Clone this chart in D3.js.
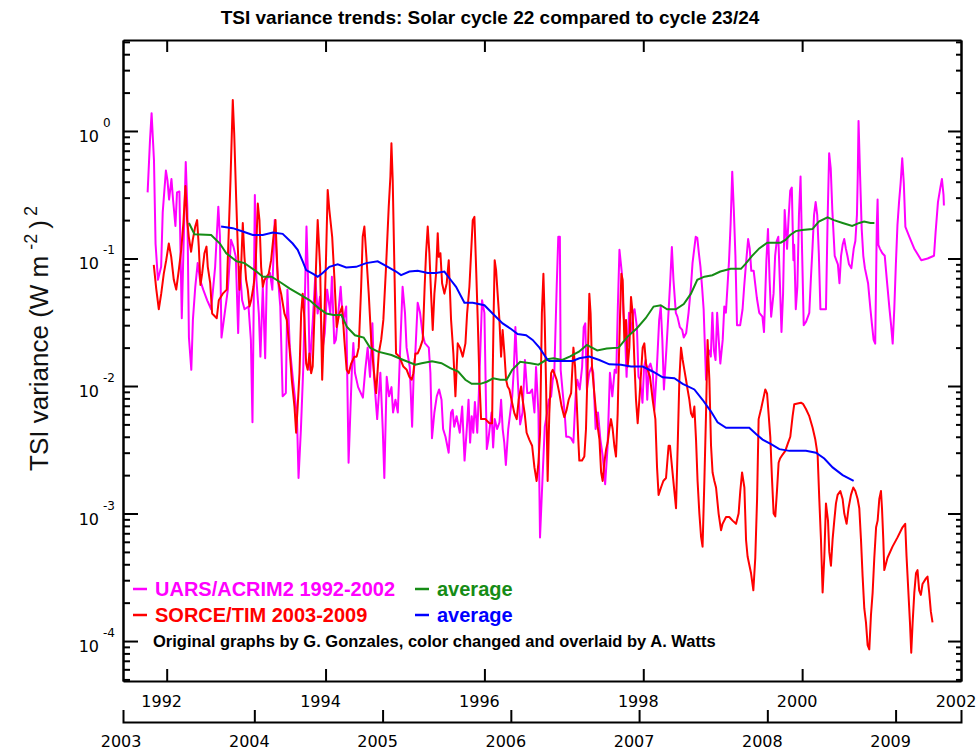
<!DOCTYPE html>
<html>
<head>
<meta charset="utf-8">
<script src="https://cdn.jsdelivr.net/npm/d3@7"></script>
<style>
  body { margin: 0; background: #fff; }
  svg { display: block; }
</style>
</head>
<body>
<div id="chart"></div>
<script>
// UARS/ACRIM2 1992-2002 variance, [decimal year, W^2 m^-4]
const uarsSeries = [
[1991.76,0.33],[1991.79,0.85],[1991.81,1.38],[1991.84,0.59],[1991.86,0.13],[1991.89,0.068],[1991.93,0.086],[1991.95,0.23],[1991.99,0.49],[1992.01,0.41],
[1992.03,0.29],[1992.06,0.42],[1992.08,0.29],[1992.11,0.18],[1992.13,0.33],[1992.16,0.335],[1992.19,0.034],[1992.21,0.11],[1992.24,0.57],[1992.26,0.25],
[1992.28,0.024],[1992.31,0.0134],[1992.33,0.033],[1992.36,0.06],[1992.39,0.092],[1992.42,0.068],[1992.46,0.057],[1992.51,0.047],[1992.56,0.040],[1992.61,0.086],
[1992.65,0.255],[1992.67,0.15],[1992.69,0.024],[1992.73,0.037],[1992.77,0.057],[1992.81,0.14],[1992.84,0.124],[1992.87,0.103],[1992.90,0.026],[1992.92,0.086],
[1992.95,0.047],[1992.98,0.040],[1993.03,0.042],[1993.06,0.023],[1993.08,0.0052],[1993.11,0.315],[1993.13,0.068],[1993.16,0.037],[1993.18,0.017],[1993.21,0.06],
[1993.24,0.0165],[1993.26,0.068],[1993.30,0.077],[1993.33,0.057],[1993.36,0.20],[1993.39,0.086],[1993.43,0.042],[1993.46,0.0083],[1993.50,0.0088],[1993.52,0.057],
[1993.55,0.020],[1993.59,0.0112],[1993.64,0.0058],[1993.66,0.0019],[1993.69,0.0046],[1993.72,0.0142],[1993.76,0.178],[1993.78,0.068],[1993.80,0.0134],[1993.84,0.033],
[1993.87,0.072],[1993.90,0.037],[1993.93,0.05],[1993.96,0.019],[1993.99,0.026],[1994.02,0.057],[1994.06,0.037],[1994.08,0.072],[1994.11,0.0216],[1994.13,0.023],
[1994.16,0.037],[1994.19,0.06],[1994.22,0.031],[1994.26,0.042],[1994.29,0.0025],[1994.33,0.0127],[1994.35,0.0217],[1994.37,0.0127],[1994.41,0.0098],[1994.47,0.0081],
[1994.50,0.0134],[1994.53,0.020],[1994.56,0.0118],[1994.59,0.031],[1994.61,0.0118],[1994.65,0.0055],[1994.69,0.0127],[1994.72,0.0046],[1994.74,0.0019],[1994.77,0.0118],
[1994.80,0.0083],[1994.83,0.0098],[1994.85,0.0062],[1994.88,0.0078],[1994.91,0.0062],[1994.94,0.020],[1994.97,0.06],[1995.00,0.0375],[1995.02,0.020],[1995.06,0.0141],
[1995.09,0.0048],[1995.11,0.0127],[1995.13,0.018],[1995.16,0.045],[1995.19,0.0375],[1995.22,0.026],[1995.25,0.0217],[1995.30,0.020],[1995.32,0.0127],[1995.34,0.0039],
[1995.37,0.0062],[1995.40,0.0083],[1995.43,0.0094],[1995.46,0.0078],[1995.48,0.0046],[1995.51,0.0040],[1995.55,0.0030],[1995.58,0.0062],[1995.60,0.0065],[1995.62,0.0048],
[1995.65,0.0058],[1995.69,0.0043],[1995.72,0.0069],[1995.75,0.0026],[1995.78,0.0048],[1995.80,0.0078],[1995.82,0.0036],[1995.84,0.0058],[1995.86,0.0043],[1995.88,0.0075],
[1995.91,0.0043],[1995.93,0.0088],[1995.97,0.047],[1996.00,0.0375],[1996.03,0.0032],[1996.05,0.0038],[1996.09,0.0062],[1996.11,0.0033],[1996.13,0.0055],[1996.16,0.0046],
[1996.19,0.0052],[1996.21,0.0078],[1996.23,0.0046],[1996.25,0.0036],[1996.27,0.0024],[1996.30,0.0046],[1996.35,0.0083],[1996.37,0.0134],[1996.39,0.029],[1996.42,0.0112],
[1996.45,0.0050],[1996.48,0.0062],[1996.51,0.016],[1996.54,0.0088],[1996.57,0.0088],[1996.60,0.0094],[1996.63,0.0062],[1996.65,0.0141],[1996.68,0.0062],[1996.70,0.00065],
[1996.73,0.0018],[1996.76,0.0048],[1996.79,0.0062],[1996.81,0.0078],[1996.84,0.0083],[1996.86,0.0112],[1996.88,0.0127],[1996.91,0.06],[1996.93,0.148],[1996.95,0.148],
[1996.96,0.0134],[1996.99,0.0083],[1997.01,0.0062],[1997.03,0.0040],[1997.06,0.0040],[1997.09,0.0039],[1997.12,0.0036],[1997.15,0.0088],[1997.17,0.0112],[1997.20,0.0094],
[1997.23,0.0141],[1997.25,0.029],[1997.27,0.031],[1997.29,0.0094],[1997.32,0.0127],[1997.35,0.0141],[1997.37,0.0127],[1997.40,0.0046],[1997.43,0.0062],[1997.46,0.0038],
[1997.49,0.0028],[1997.52,0.0017],[1997.55,0.0033],[1997.58,0.0127],[1997.61,0.0083],[1997.64,0.0134],[1997.66,0.0127],[1997.68,0.042],[1997.70,0.117],[1997.73,0.077],
[1997.75,0.0375],[1997.77,0.026],[1997.79,0.0118],[1997.82,0.0375],[1997.85,0.026],[1997.87,0.0375],[1997.89,0.040],[1997.92,0.029],[1997.94,0.0118],[1997.96,0.0112],
[1997.99,0.0074],[1998.01,0.0141],[1998.03,0.016],[1998.05,0.0078],[1998.07,0.0141],[1998.09,0.015],[1998.12,0.0127],[1998.14,0.0065],[1998.17,0.0134],[1998.20,0.033],
[1998.22,0.042],[1998.24,0.023],[1998.26,0.0094],[1998.29,0.019],[1998.32,0.040],[1998.34,0.068],[1998.36,0.123],[1998.38,0.068],[1998.41,0.0375],[1998.43,0.035],
[1998.46,0.029],[1998.49,0.0275],[1998.51,0.024],[1998.54,0.026],[1998.57,0.0375],[1998.60,0.06],[1998.62,0.092],[1998.66,0.148],[1998.68,0.145],[1998.70,0.11],
[1998.72,0.086],[1998.74,0.06],[1998.76,0.040],[1998.79,0.0112],[1998.81,0.017],[1998.83,0.019],[1998.85,0.017],[1998.87,0.0375],[1998.89,0.019],[1998.91,0.016],
[1998.93,0.0375],[1998.95,0.023],[1998.97,0.015],[1999.00,0.023],[1999.02,0.042],[1999.04,0.0375],[1999.06,0.06],[1999.08,0.097],[1999.10,0.19],[1999.12,0.48],
[1999.14,0.24],[1999.16,0.105],[1999.18,0.030],[1999.22,0.030],[1999.25,0.040],[1999.27,0.06],[1999.29,0.086],[1999.32,0.142],[1999.34,0.12],[1999.36,0.08],
[1999.39,0.08],[1999.43,0.049],[1999.46,0.0375],[1999.50,0.035],[1999.52,0.0265],[1999.55,0.097],[1999.57,0.17],[1999.59,0.069],[1999.61,0.035],[1999.64,0.053],
[1999.66,0.105],[1999.68,0.137],[1999.70,0.148],[1999.72,0.064],[1999.74,0.0265],[1999.76,0.053],[1999.78,0.24],[1999.81,0.119],[1999.83,0.21],[1999.85,0.34],
[1999.87,0.36],[1999.89,0.097],[1999.90,0.128],[1999.92,0.040],[1999.94,0.06],[1999.96,0.22],[1999.98,0.44],[2000.00,0.11],[2000.02,0.030],[2000.05,0.032],
[2000.09,0.0375],[2000.11,0.069],[2000.13,0.12],[2000.15,0.22],[2000.17,0.277],[2000.19,0.22],[2000.21,0.11],[2000.23,0.040],[2000.28,0.040],[2000.30,0.040],
[2000.32,0.193],[2000.34,0.67],[2000.36,0.51],[2000.38,0.24],[2000.41,0.105],[2000.45,0.09],[2000.47,0.064],[2000.49,0.105],[2000.51,0.128],[2000.53,0.142],
[2000.55,0.12],[2000.57,0.105],[2000.59,0.09],[2000.62,0.084],[2000.65,0.12],[2000.67,0.137],[2000.69,0.22],[2000.70,0.44],[2000.71,1.2],[2000.73,0.44],
[2000.75,0.17],[2000.77,0.105],[2000.79,0.084],[2000.83,0.064],[2000.86,0.040],[2000.88,0.030],[2000.90,0.023],[2000.92,0.0215],[2000.94,0.183],[2000.95,0.29],
[2000.96,0.128],[2000.98,0.119],[2001.01,0.11],[2001.04,0.105],[2001.07,0.064],[2001.10,0.040],[2001.12,0.030],[2001.14,0.0215],[2001.16,0.040],[2001.18,0.09],
[2001.20,0.183],[2001.22,0.277],[2001.24,0.39],[2001.26,0.61],[2001.28,0.39],[2001.30,0.177],[2001.35,0.148],[2001.41,0.12],[2001.50,0.097],[2001.58,0.10],
[2001.66,0.105],[2001.68,0.16],[2001.71,0.277],[2001.74,0.36],[2001.76,0.42],[2001.78,0.315],[2001.785,0.26]
];

// SORCE/TIM 2003-2009 variance
const sorceSeries = [
[2003.216,0.089],[2003.235,0.058],[2003.255,0.040],[2003.274,0.053],[2003.294,0.076],[2003.313,0.097],[2003.333,0.131],[2003.352,0.103],[2003.372,0.068],[2003.391,0.057],
[2003.411,0.081],[2003.430,0.117],[2003.447,0.19],[2003.463,0.37],[2003.476,0.20],[2003.489,0.148],[2003.507,0.113],[2003.520,0.14],[2003.539,0.178],[2003.554,0.20],
[2003.567,0.124],[2003.580,0.062],[2003.593,0.076],[2003.611,0.11],[2003.627,0.124],[2003.637,0.086],[2003.656,0.064],[2003.671,0.037],[2003.707,0.034],[2003.723,0.047],
[2003.754,0.053],[2003.785,0.057],[2003.801,0.167],[2003.814,0.41],[2003.832,1.75],[2003.843,0.96],[2003.858,0.305],[2003.871,0.124],[2003.884,0.057],[2003.897,0.086],
[2003.910,0.19],[2003.923,0.103],[2003.936,0.068],[2003.949,0.057],[2003.962,0.042],[2003.975,0.047],[2003.993,0.06],[2004.009,0.081],[2004.027,0.27],[2004.040,0.20],
[2004.053,0.086],[2004.066,0.06],[2004.079,0.068],[2004.112,0.076],[2004.131,0.097],[2004.149,0.148],[2004.165,0.20],[2004.183,0.068],[2004.209,0.053],[2004.235,0.037],
[2004.253,0.033],[2004.274,0.020],[2004.292,0.0112],[2004.313,0.0069],[2004.326,0.0043],[2004.338,0.0069],[2004.352,0.0126],[2004.365,0.037],[2004.377,0.053],[2004.391,0.033],
[2004.404,0.015],[2004.416,0.0134],[2004.430,0.018],[2004.443,0.0126],[2004.455,0.0142],[2004.469,0.037],[2004.482,0.092],[2004.494,0.20],[2004.513,0.086],[2004.529,0.0112],
[2004.547,0.037],[2004.560,0.11],[2004.572,0.345],[2004.585,0.24],[2004.607,0.148],[2004.625,0.068],[2004.642,0.029],[2004.663,0.037],[2004.685,0.042],[2004.702,0.023],
[2004.720,0.0134],[2004.736,0.0126],[2004.755,0.015],[2004.780,0.017],[2004.798,0.017],[2004.814,0.020],[2004.833,0.06],[2004.845,0.148],[2004.858,0.178],[2004.872,0.11],
[2004.892,0.053],[2004.911,0.023],[2004.931,0.0134],[2004.950,0.0088],[2004.970,0.018],[2004.989,0.023],[2005.006,0.033],[2005.027,0.086],[2005.048,0.255],[2005.061,0.44],
[2005.069,0.80],[2005.079,0.41],[2005.092,0.086],[2005.105,0.018],[2005.131,0.017],[2005.162,0.0142],[2005.188,0.0134],[2005.209,0.0118],[2005.227,0.0112],[2005.240,0.0126],
[2005.256,0.018],[2005.274,0.018],[2005.293,0.020],[2005.313,0.023],[2005.328,0.06],[2005.339,0.11],[2005.352,0.178],[2005.365,0.11],[2005.378,0.053],[2005.391,0.0275],
[2005.404,0.053],[2005.417,0.076],[2005.430,0.158],[2005.438,0.103],[2005.451,0.11],[2005.464,0.064],[2005.482,0.053],[2005.500,0.064],[2005.516,0.097],[2005.534,0.033],
[2005.552,0.018],[2005.568,0.0083],[2005.586,0.0216],[2005.604,0.020],[2005.625,0.017],[2005.646,0.0216],[2005.659,0.037],[2005.677,0.06],[2005.690,0.11],[2005.703,0.20],
[2005.716,0.212],[2005.729,0.086],[2005.742,0.033],[2005.755,0.0112],[2005.768,0.0055],[2005.802,0.0055],[2005.833,0.0051],[2005.854,0.0051],[2005.858,0.0112],[2005.866,0.037],
[2005.874,0.097],[2005.885,0.081],[2005.897,0.053],[2005.911,0.033],[2005.924,0.017],[2005.936,0.0275],[2005.950,0.018],[2005.963,0.0112],[2005.975,0.0099],[2005.989,0.0094],
[2006.010,0.0074],[2006.028,0.0061],[2006.046,0.0055],[2006.061,0.0078],[2006.080,0.0099],[2006.092,0.0078],[2006.108,0.0061],[2006.123,0.0043],[2006.144,0.0038],[2006.166,0.0034],
[2006.184,0.0023],[2006.201,0.0018],[2006.215,0.0025],[2006.228,0.0043],[2006.242,0.037],[2006.254,0.076],[2006.264,0.033],[2006.275,0.0099],[2006.287,0.0018],[2006.300,0.0061],
[2006.314,0.0126],[2006.326,0.0134],[2006.339,0.0126],[2006.357,0.0112],[2006.378,0.0088],[2006.396,0.0069],[2006.417,0.0057],[2006.435,0.0065],[2006.451,0.0078],[2006.470,0.0088],
[2006.488,0.020],[2006.501,0.0142],[2006.513,0.0078],[2006.526,0.0038],[2006.534,0.0026],[2006.555,0.0026],[2006.573,0.0028],[2006.586,0.0046],[2006.599,0.0142],[2006.612,0.053],
[2006.622,0.037],[2006.633,0.0142],[2006.651,0.0088],[2006.665,0.0061],[2006.677,0.0048],[2006.691,0.0038],[2006.704,0.0021],[2006.716,0.0018],[2006.729,0.0025],[2006.743,0.0032],
[2006.755,0.0036],[2006.768,0.0046],[2006.781,0.0055],[2006.794,0.0046],[2006.807,0.0034],[2006.820,0.0028],[2006.833,0.0061],[2006.841,0.0142],[2006.852,0.037],[2006.862,0.076],
[2006.872,0.068],[2006.885,0.023],[2006.898,0.033],[2006.911,0.0142],[2006.924,0.020],[2006.937,0.050],[2006.950,0.037],[2006.963,0.016],[2006.976,0.0078],[2006.989,0.0051],
[2007.002,0.0078],[2007.015,0.0126],[2007.028,0.020],[2007.041,0.0216],[2007.054,0.015],[2007.067,0.0134],[2007.085,0.0118],[2007.106,0.0078],[2007.127,0.0055],[2007.140,0.0023],
[2007.152,0.0014],[2007.171,0.0016],[2007.189,0.0018],[2007.210,0.0019],[2007.230,0.0034],[2007.241,0.0034],[2007.257,0.0023],[2007.275,0.0015],[2007.288,0.0011],[2007.301,0.0034],
[2007.314,0.0112],[2007.327,0.020],[2007.340,0.016],[2007.353,0.0134],[2007.366,0.0112],[2007.378,0.0094],[2007.392,0.0078],[2007.405,0.0061],[2007.418,0.0057],[2007.431,0.0069],
[2007.444,0.0038],[2007.456,0.0018],[2007.470,0.0010],[2007.483,0.00066],[2007.495,0.00055],[2007.509,0.0018],[2007.522,0.0061],[2007.534,0.023],[2007.548,0.0112],[2007.561,0.0034],
[2007.573,0.0021],[2007.587,0.0018],[2007.600,0.0016],[2007.620,0.0010],[2007.639,0.00074],[2007.651,0.00083],[2007.678,0.00094],[2007.703,0.00094],[2007.729,0.00088],[2007.756,0.00083],
[2007.776,0.0010],[2007.789,0.0015],[2007.803,0.0021],[2007.821,0.0016],[2007.834,0.00062],[2007.846,0.00046],[2007.873,0.00034],[2007.891,0.00025],[2007.906,0.00045],[2007.920,0.0013],
[2007.932,0.0055],[2007.951,0.0066],[2007.969,0.0080],[2007.984,0.0094],[2007.998,0.0087],[2008.010,0.0060],[2008.023,0.0040],[2008.036,0.0019],[2008.049,0.0010],[2008.062,0.00095],
[2008.075,0.0015],[2008.088,0.0025],[2008.099,0.0027],[2008.119,0.0029],[2008.140,0.0031],[2008.158,0.0035],[2008.179,0.0040],[2008.197,0.0058],[2008.210,0.0072],[2008.236,0.0073],
[2008.262,0.0074],[2008.280,0.0072],[2008.301,0.0066],[2008.327,0.0058],[2008.353,0.0047],[2008.374,0.0038],[2008.392,0.0029],[2008.405,0.0013],[2008.418,0.00063],[2008.431,0.00024],
[2008.444,0.00045],[2008.457,0.0012],[2008.473,0.00088],[2008.483,0.0005],[2008.496,0.00039],[2008.509,0.00063],[2008.522,0.00088],[2008.535,0.0012],[2008.548,0.0014],[2008.569,0.0015],
[2008.587,0.0013],[2008.600,0.0010],[2008.618,0.00083],[2008.633,0.0011],[2008.652,0.0014],[2008.670,0.0016],[2008.686,0.0015],[2008.704,0.0013],[2008.717,0.0011],[2008.730,0.00063],
[2008.743,0.00032],[2008.756,0.00018],[2008.769,0.00014],[2008.782,0.000093],[2008.795,0.000086],[2008.808,0.00016],[2008.821,0.00024],[2008.834,0.00045],[2008.848,0.00078],[2008.860,0.00088],
[2008.873,0.0013],[2008.886,0.0015],[2008.894,0.0011],[2008.904,0.00063],[2008.912,0.00036],[2008.937,0.00045],[2008.976,0.00055],[2009.015,0.00065],[2009.054,0.00078],[2009.075,0.00083],
[2009.085,0.00047],[2009.099,0.00025],[2009.112,0.00014],[2009.122,0.000081],[2009.133,0.00014],[2009.146,0.00024],[2009.159,0.00034],[2009.171,0.00036],[2009.184,0.00025],[2009.197,0.00023],
[2009.210,0.00028],[2009.237,0.00031],[2009.249,0.00032],[2009.262,0.00024],[2009.275,0.00017],[2009.288,0.00014]
];

// running averages
const uarsAverage = [
[1992.28,0.19],[1992.35,0.155],[1992.56,0.153],[1992.67,0.131],[1992.75,0.11],[1992.88,0.095],[1992.98,0.092],[1993.13,0.079],[1993.21,0.072],[1993.32,0.072],
[1993.45,0.064],[1993.55,0.058],[1993.68,0.052],[1993.80,0.047],[1993.91,0.041],[1994.01,0.037],[1994.10,0.036],[1994.20,0.036],[1994.27,0.029],[1994.37,0.025],
[1994.48,0.024],[1994.56,0.020],[1994.66,0.0186],[1994.83,0.0175],[1994.98,0.016],[1995.13,0.0147],[1995.21,0.0151],[1995.34,0.0156],[1995.46,0.0151],[1995.57,0.0138],
[1995.67,0.013],[1995.76,0.0112],[1995.84,0.0104],[1995.95,0.0104],[1996.03,0.0108],[1996.11,0.0115],[1996.20,0.0112],[1996.28,0.0112],[1996.35,0.0134],[1996.45,0.0155],
[1996.58,0.0151],[1996.68,0.0147],[1996.79,0.0162],[1996.87,0.0165],[1996.98,0.016],[1997.08,0.0171],[1997.19,0.0186],[1997.29,0.021],[1997.42,0.019],[1997.54,0.0197],
[1997.69,0.020],[1997.80,0.0243],[1997.92,0.0284],[1998.03,0.034],[1998.13,0.042],[1998.22,0.043],[1998.30,0.040],[1998.41,0.040],[1998.51,0.044],[1998.60,0.053],
[1998.68,0.068],[1998.77,0.072],[1998.87,0.074],[1998.97,0.079],[1999.10,0.083],[1999.23,0.083],[1999.29,0.091],[1999.37,0.105],[1999.46,0.12],[1999.56,0.133],
[1999.73,0.133],[1999.79,0.14],[1999.85,0.153],[1999.92,0.164],[2000.00,0.167],[2000.13,0.17],[2000.21,0.195],[2000.32,0.21],[2000.40,0.20],[2000.51,0.19],
[2000.63,0.18],[2000.72,0.19],[2000.78,0.195],[2000.86,0.19],[2000.91,0.19]
];

const sorceAverage = [
[2003.741,0.178],[2003.832,0.173],[2003.910,0.163],[2003.988,0.153],[2004.066,0.153],[2004.144,0.16],[2004.221,0.156],[2004.299,0.131],[2004.338,0.117],[2004.377,0.095],
[2004.404,0.081],[2004.455,0.076],[2004.494,0.072],[2004.533,0.077],[2004.585,0.086],[2004.650,0.09],[2004.716,0.085],[2004.794,0.086],[2004.872,0.092],[2004.962,0.095],
[2005.040,0.086],[2005.105,0.079],[2005.144,0.074],[2005.209,0.079],[2005.274,0.08],[2005.352,0.077],[2005.417,0.077],[2005.482,0.079],[2005.521,0.07],[2005.573,0.06],
[2005.638,0.045],[2005.703,0.045],[2005.794,0.043],[2005.858,0.037],[2005.936,0.031],[2006.002,0.028],[2006.053,0.0256],[2006.119,0.025],[2006.170,0.023],[2006.223,0.020],
[2006.287,0.016],[2006.300,0.0157],[2006.392,0.0157],[2006.482,0.0157],[2006.534,0.0165],[2006.612,0.017],[2006.690,0.016],[2006.768,0.0148],[2006.859,0.0147],[2006.937,0.0142],
[2007.028,0.0142],[2007.106,0.013],[2007.184,0.0117],[2007.275,0.0115],[2007.340,0.0104],[2007.431,0.0094],[2007.495,0.0078],[2007.561,0.0063],[2007.612,0.0052],[2007.678,0.0047],
[2007.768,0.0047],[2007.859,0.0047],[2007.912,0.0042],[2007.963,0.0038],[2008.029,0.0035],[2008.094,0.0032],[2008.172,0.0031],[2008.301,0.0031],[2008.379,0.0030],[2008.444,0.0027],
[2008.509,0.0023],[2008.587,0.0020],[2008.673,0.0018]
];

const upperTickYears = [1992, 1993, 1994, 1995, 1996, 1997, 1998, 1999, 2000, 2001];
const upperLabelYears = [1992, 1994, 1996, 1998, 2000, 2002];
const lowerTickYears = [2004, 2005, 2006, 2007, 2008, 2009];
const lowerLabelYears = [2003, 2004, 2005, 2006, 2007, 2008, 2009];
const decades = [1e-4, 1e-3, 1e-2, 1e-1, 1];

const W = 977, H = 750;
const plot = { left: 123, right: 961, top: 40, bottom: 681 };
const lowerAxisY = 722;

const colors = {
    uars: '#ff00ff',
    sorce: '#ff0000',
    uarsAvg: '#168c16',
    sorceAvg: '#0000ff'
};

const svg = d3.select('#chart').append('svg')
    .attr('width', W)
    .attr('height', H)
    .style('background', '#fff');

const y = d3.scaleLog().domain([4.86e-5, 5.17]).range([plot.bottom, plot.top]);
const xUars = d3.scaleLinear().domain([1991.45, 2002]).range([plot.left, plot.right]);
const xSorce = d3.scaleLinear().domain([2002.976, 2009.51]).range([plot.left, plot.right]);

const minor = y.ticks().filter(v => {
    const m = v / Math.pow(10, Math.floor(Math.log10(v) + 1e-9));
    return Math.abs(m - 1) > 1e-6;
});

function styleAxis(g, width) {
    g.select('.domain').attr('stroke', '#000').attr('stroke-width', width);
    g.selectAll('.tick line').attr('stroke', '#000').attr('stroke-width', width);
    g.selectAll('.tick text').remove();
}

// left axis: ticks point inwards
svg.append('g')
    .attr('transform', `translate(${plot.left},0)`)
    .call(d3.axisRight(y).tickValues(minor).tickSize(7).tickSizeOuter(0).tickFormat(''))
    .call(g => styleAxis(g, 2));
svg.append('g')
    .attr('transform', `translate(${plot.left},0)`)
    .call(d3.axisRight(y).tickValues(decades).tickSize(15).tickSizeOuter(0).tickFormat(''))
    .call(g => styleAxis(g, 2));

// right axis
svg.append('g')
    .attr('transform', `translate(${plot.right},0)`)
    .call(d3.axisLeft(y).tickValues(minor).tickSize(5).tickSizeOuter(0).tickFormat(''))
    .call(g => styleAxis(g, 2));
svg.append('g')
    .attr('transform', `translate(${plot.right},0)`)
    .call(d3.axisLeft(y).tickValues(decades).tickSize(13).tickSizeOuter(0).tickFormat(''))
    .call(g => styleAxis(g, 2));

// top and bottom axes (1992-2002)
svg.append('g')
    .attr('transform', `translate(0,${plot.top})`)
    .call(d3.axisBottom(xUars).tickValues(upperTickYears.filter(d => d % 2 === 0)).tickSize(12).tickSizeOuter(0).tickFormat(''))
    .call(g => styleAxis(g, 2));
svg.append('g')
    .attr('transform', `translate(0,${plot.bottom})`)
    .call(d3.axisTop(xUars).tickValues(upperTickYears.filter(d => d % 2 === 0)).tickSize(12).tickSizeOuter(0).tickFormat(''))
    .call(g => styleAxis(g, 2));

// second time axis (2003-2009)
svg.append('g')
    .attr('transform', `translate(0,${lowerAxisY})`)
    .call(d3.axisTop(xSorce).tickValues(lowerTickYears).tickSize(12).tickSizeOuter(12).tickFormat(''))
    .call(g => styleAxis(g, 2));

const numFont = '"DejaVu Sans", Verdana, sans-serif';
const textFont = '"Liberation Sans", Arial, Helvetica, sans-serif';

svg.append('g').selectAll('text')
    .data(upperLabelYears)
    .enter().append('text')
    .attr('x', d => xUars(d) - 5)
    .attr('y', 707)
    .attr('text-anchor', 'middle')
    .style('font-family', numFont)
    .style('font-size', '16px')
    .text(d => d);

svg.append('g').selectAll('text')
    .data(lowerLabelYears)
    .enter().append('text')
    .attr('x', d => xSorce(d) - 5)
    .attr('y', 747)
    .attr('text-anchor', 'middle')
    .style('font-family', numFont)
    .style('font-size', '16px')
    .text(d => d);

// y labels 10^n
const yLab = svg.append('g').selectAll('g')
    .data(decades)
    .enter().append('g');
yLab.append('text')
    .attr('x', 99)
    .attr('y', d => y(d) + 11)
    .attr('text-anchor', 'end')
    .style('font-family', numFont)
    .style('font-size', '16px')
    .text('10');
yLab.append('text')
    .attr('x', 103)
    .attr('y', d => y(d) - 4)
    .style('font-family', numFont)
    .style('font-size', '12px')
    .text(d => String(Math.round(Math.log10(d))));

// y title
const yTitle = svg.append('text')
    .attr('transform', 'translate(48,471) rotate(-90)')
    .style('font-family', textFont)
    .style('font-size', '26px')
    .style('fill', '#111');
yTitle.append('tspan').text('TSI variance (W m');
yTitle.append('tspan').attr('dx', 6).attr('dy', -11).style('font-size', '18px').text('-2');
yTitle.append('tspan').attr('dx', 5).attr('dy', 11).text(')');
yTitle.append('tspan').attr('dx', 4).attr('dy', -11).style('font-size', '18px').text('2');

// title
svg.append('text')
    .attr('x', 490)
    .attr('y', 24)
    .attr('text-anchor', 'middle')
    .style('font-family', textFont)
    .style('font-weight', 'bold')
    .style('font-size', '19px')
    .text('TSI variance trends: Solar cycle 22 compared to cycle 23/24');

// series
const lineUars = d3.line().x(d => xUars(d[0])).y(d => y(d[1]));
const lineSorce = d3.line().x(d => xSorce(d[0])).y(d => y(d[1]));

svg.append('path').datum(uarsSeries)
    .attr('d', lineUars).attr('fill', 'none')
    .attr('stroke', colors.uars).attr('stroke-width', 2).attr('stroke-linejoin', 'round');
svg.append('path').datum(sorceSeries)
    .attr('d', lineSorce).attr('fill', 'none')
    .attr('stroke', colors.sorce).attr('stroke-width', 2).attr('stroke-linejoin', 'round');
svg.append('path').datum(uarsAverage)
    .attr('d', lineUars).attr('fill', 'none')
    .attr('stroke', colors.uarsAvg).attr('stroke-width', 2);
svg.append('path').datum(sorceAverage)
    .attr('d', lineSorce).attr('fill', 'none')
    .attr('stroke', colors.sorceAvg).attr('stroke-width', 2);

// legend
const legendRows = [
    { x: 133, y: 589, text: 'UARS/ACRIM2 1992-2002', color: colors.uars },
    { x: 133, y: 615, text: 'SORCE/TIM 2003-2009', color: colors.sorce },
    { x: 415, y: 589, text: 'average', color: colors.uarsAvg },
    { x: 415, y: 615, text: 'average', color: colors.sorceAvg }
];
const leg = svg.append('g').selectAll('g').data(legendRows).enter().append('g');
leg.append('line')
    .attr('x1', d => d.x).attr('x2', d => d.x + 14)
    .attr('y1', d => d.y).attr('y2', d => d.y)
    .attr('stroke', d => d.color).attr('stroke-width', 2.5);
leg.append('text')
    .attr('x', d => d.x + 22)
    .attr('y', d => d.y + 7)
    .style('font-family', textFont)
    .style('font-weight', 'bold')
    .style('font-size', '20px')
    .style('fill', d => d.color)
    .text(d => d.text);

svg.append('text')
    .attr('x', 153)
    .attr('y', 647)
    .style('font-family', textFont)
    .style('font-weight', 'bold')
    .style('font-size', '16.5px')
    .text('Original graphs by G. Gonzales, color changed and overlaid by A. Watts');
</script>
</body>
</html>
